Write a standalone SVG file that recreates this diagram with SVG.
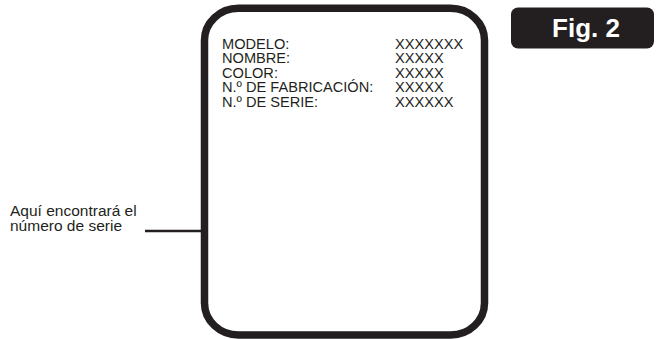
<svg xmlns="http://www.w3.org/2000/svg" width="656" height="339" viewBox="0 0 656 339">
<style>
.t{font-family:"Liberation Sans",Arial,sans-serif;fill:#231f20;font-size:14.6px}
.lbl{font-family:"Liberation Sans",Arial,sans-serif;fill:#231f20;font-size:15.5px}
.fig{font-family:"Liberation Sans",Arial,sans-serif;fill:#ffffff;font-size:26px;font-weight:bold}
</style>
<rect width="656" height="339" fill="#ffffff"/>
<g id="label-card">
<rect x="204.5" y="8.3" width="280" height="326.7" rx="34" ry="32" fill="#ffffff" stroke="#231f20" stroke-width="7.5"/>
<text class="t" x="222" y="49">MODELO:</text>
<text class="t" x="222" y="63.4">NOMBRE:</text>
<text class="t" x="222" y="77.8">COLOR:</text>
<text class="t" x="222" y="92.2">N.º DE FABRICACIÓN:</text>
<text class="t" x="222" y="106.6">N.º DE SERIE:</text>
<text class="t" x="395" y="49">XXXXXXX</text>
<text class="t" x="395" y="63.4">XXXXX</text>
<text class="t" x="395" y="77.8">XXXXX</text>
<text class="t" x="395" y="92.2">XXXXX</text>
<text class="t" x="395" y="106.6">XXXXXX</text>
</g>
<g id="fig-badge">
<rect x="511" y="7.5" width="143" height="41" rx="7" fill="#231f20"/>
<text class="fig" x="586" y="36.5" text-anchor="middle">Fig. 2</text>
</g>
<g id="callout">
<text class="lbl" x="10" y="215.7">Aquí encontrará el</text>
<text class="lbl" x="10" y="231">número de serie</text>
</g>
<g id="connectors">
<line x1="145" y1="231" x2="202" y2="231" stroke="#231f20" stroke-width="2.6"/>
</g>
</svg>
